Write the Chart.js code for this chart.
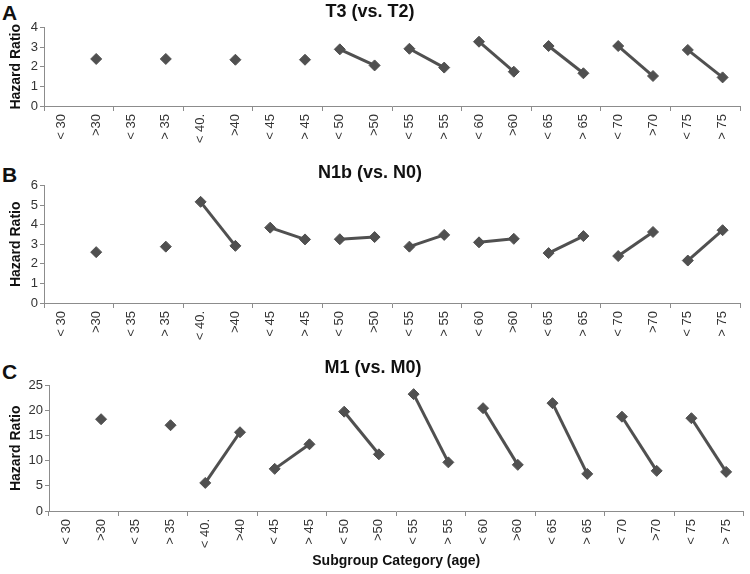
<!DOCTYPE html>
<html lang="en">
<head>
<meta charset="UTF-8">
<title>Hazard Ratio by age subgroup</title>
<script src="https://cdn.jsdelivr.net/npm/chart.js"></script>
<style>
    body { margin: 0; background: #fff; }
    .painel { position: absolute; left: 0; width: 750px; }
    .letra { position: absolute; left: 2px; font: bold 21px "Liberation Sans", Arial, sans-serif; line-height: 1; color: #111; }
</style>
</head>
<body>
<div class="letra" style="top:2px">A</div>
<div class="letra" style="top:164px">B</div>
<div class="letra" style="top:361px">C</div>
<div class="painel" style="top:0; height:148px"><canvas id="graficoA"></canvas></div>
<div class="painel" style="top:160px; height:185px"><canvas id="graficoB"></canvas></div>
<div class="painel" style="top:355px; height:219px"><canvas id="graficoC"></canvas></div>
<script>
    // categorias de idade (pares "<" e ">")
    const categorias = ['< 30', '>30', '< 35', '> 35', '< 40.', '>40', '< 45', '> 45', '< 50', '>50',
        '< 55', '> 55', '< 60', '>60', '< 65', '> 65', '< 70', '>70', '< 75', '> 75'];

    const valoresT3 = [null, 2.4, null, 2.4, null, 2.36, null, 2.36, 2.89, 2.07,
        2.92, 1.96, 3.28, 1.75, 3.06, 1.67, 3.06, 1.53, 2.86, 1.46];
    const valoresN1b = [null, 2.6, null, 2.88, 5.17, 2.92, 3.85, 3.25, 3.26, 3.37,
        2.88, 3.48, 3.1, 3.28, 2.55, 3.42, 2.4, 3.63, 2.17, 3.72];
    const valoresM1 = [null, 18.3, null, 17.1, 5.6, 15.7, 8.4, 13.3, 19.8, 11.3,
        23.3, 9.7, 20.5, 9.2, 21.5, 7.4, 18.8, 8.0, 18.5, 7.8];

    const ticksA = [0, 1, 2, 3, 4];
    const ticksB = [0, 1, 2, 3, 4, 5, 6];
    const ticksC = [0, 5, 10, 15, 20, 25];

    const fonte = '"Liberation Sans", Arial, sans-serif';
    const cinza = '#505050';
    const eixo = '#8c8c8c';

    function criarGrafico(id, titulo, valores, ticks, cfg) {
        const passo = ticks[1] - ticks[0];
        return new Chart(document.getElementById(id), {
            type: 'line',
            data: {
                labels: categorias,
                datasets: [{
                    data: valores,
                    borderColor: cinza,
                    backgroundColor: cinza,
                    borderWidth: 3,
                    pointStyle: 'rectRot',
                    pointRadius: 5.5,
                    pointBorderWidth: 1,
                    spanGaps: false,
                    segment: {
                        // so liga os pontos dentro de cada par
                        borderColor: ctx => ctx.p0DataIndex % 2 === 0 ? cinza : 'transparent'
                    }
                }]
            },
            options: {
                responsive: true,
                maintainAspectRatio: false,
                animation: false,
                layout: { padding: { left: 0, right: 750 - cfg.direita, top: 0, bottom: 0 } },
                plugins: {
                    legend: { display: false },
                    tooltip: { enabled: false },
                    title: {
                        display: true,
                        text: titulo,
                        color: '#111',
                        font: { family: fonte, size: 18, weight: 'bold' },
                        padding: cfg.padTitulo
                    }
                },
                scales: {
                    x: {
                        offset: true,
                        afterFit: s => { s.height = cfg.alturaX; },
                        grid: {
                            offset: true,
                            drawOnChartArea: false,
                            tickLength: 5,
                            tickColor: c => (c.index === undefined || c.index % 2 === 0) ? eixo : 'transparent'
                        },
                        border: { color: eixo, width: 1 },
                        ticks: {
                            autoSkip: false,
                            minRotation: 90,
                            maxRotation: 90,
                            padding: 3,
                            color: '#333',
                            font: { family: fonte, size: 13 }
                        },
                        title: {
                            display: !!cfg.tituloX,
                            text: cfg.tituloX || '',
                            color: '#111',
                            font: { family: fonte, size: 14, weight: 'bold' },
                            padding: { top: 4, bottom: 4 }
                        }
                    },
                    y: {
                        min: ticks[0],
                        max: ticks[ticks.length - 1],
                        afterFit: s => { s.width = cfg.esquerda; },
                        grid: { drawOnChartArea: false, tickLength: 4, tickColor: eixo },
                        border: { color: eixo, width: 1 },
                        ticks: {
                            stepSize: passo,
                            padding: 2,
                            color: '#333',
                            font: { family: fonte, size: 13 }
                        },
                        title: {
                            display: true,
                            text: 'Hazard Ratio',
                            color: '#111',
                            font: { family: fonte, size: 14, weight: 'bold' },
                            padding: { top: 8, bottom: 0 }
                        }
                    }
                }
            }
        });
    }

    criarGrafico('graficoA', 'T3 (vs. T2)', valoresT3, ticksA,
        { esquerda: 44, direita: 740, alturaX: 42, padTitulo: { top: 1, bottom: 5 } });
    criarGrafico('graficoB', 'N1b (vs. N0)', valoresN1b, ticksB,
        { esquerda: 44, direita: 740, alturaX: 42, padTitulo: { top: 2, bottom: 2 } });
    criarGrafico('graficoC', 'M1 (vs. M0)', valoresM1, ticksC,
        { esquerda: 49, direita: 746, alturaX: 63, padTitulo: { top: 2, bottom: 7 }, tituloX: 'Subgroup Category (age)' });
</script>
</body>
</html>
